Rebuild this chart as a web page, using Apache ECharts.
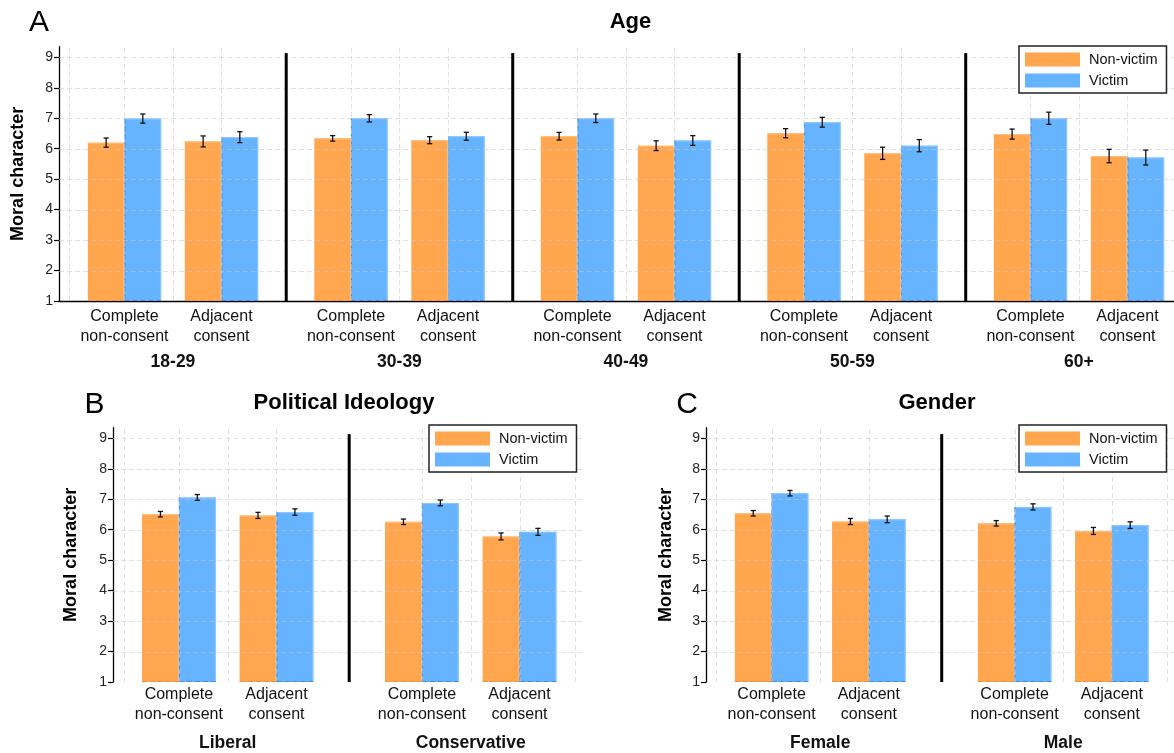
<!DOCTYPE html>
<html><head><meta charset="utf-8">
<script src="https://cdn.jsdelivr.net/npm/echarts@6/dist/echarts.min.js"></script>
<style>html,body{margin:0;padding:0;background:#fff}#c{width:1174px;height:753px}</style>
</head><body><div id="c"></div>
<script>
// ---------------- data ----------------
const conditions = ['Complete\nnon-consent', 'Adjacent\nconsent'];
const seriesNames = ['Non-victim', 'Victim'];
const yTicks = [1, 2, 3, 4, 5, 6, 7, 8, 9];
const yLabel = 'Moral character';

const ageGroups = ['18-29', '30-39', '40-49', '50-59', '60+'];
const ageNonVictim = [[6.20, 6.24], [6.34, 6.28], [6.41, 6.10], [6.51, 5.85], [6.48, 5.76]];
const ageVictim = [[6.99, 6.38], [7.00, 6.41], [7.00, 6.27], [6.87, 6.10], [7.00, 5.71]];
const ageNonVictimErr = [[0.15, 0.18], [0.09, 0.115], [0.125, 0.16], [0.15, 0.20], [0.165, 0.22]];
const ageVictimErr = [[0.15, 0.18], [0.12, 0.13], [0.14, 0.16], [0.16, 0.20], [0.20, 0.245]];

const ideologyGroups = ['Liberal', 'Conservative'];
const ideologyNonVictim = [[6.51, 6.47], [6.26, 5.78]];
const ideologyVictim = [[7.06, 6.58], [6.88, 5.93]];
const ideologyNonVictimErr = [[0.09, 0.10], [0.09, 0.115]];
const ideologyVictimErr = [[0.095, 0.105], [0.095, 0.115]];

const genderGroups = ['Female', 'Male'];
const genderNonVictim = [[6.54, 6.27], [6.21, 5.96]];
const genderVictim = [[7.20, 6.34], [6.75, 6.15]];
const genderNonVictimErr = [[0.09, 0.10], [0.09, 0.115]];
const genderVictimErr = [[0.09, 0.11], [0.10, 0.11]];

// ---------------- style / layout ----------------
const FONT = "'Liberation Sans', Arial, Helvetica, sans-serif";
const ORANGE = '#FFA64F', BLUE = '#66B3FF';
const ORANGE_DARK = '#EE9040', BLUE_DARK = '#3D8FE6';
const ORANGE_LIGHT = '#FFBF80', BLUE_LIGHT = '#8EC8FF';
const GRID_COLOR = 'rgba(200,200,200,0.55)';
const BAR_W = 0.378;   // bar width in category units
const X_MIN = -0.675;
const Y_MAX = 9.35;
const SEP_TOP = 9.14;

const panels = [
  { letter: 'A', title: 'Age', groups: ageGroups, nv: ageNonVictim, v: ageVictim,
    nvErr: ageNonVictimErr, vErr: ageVictimErr, spacing: 2.335,
    grid: { left: 59, top: 46.7, width: 1115, height: 254.3 }, unitPx: 97,
    xAxisLine: true, catDy: 6, nameGap: 32,
    legend: { left: 1019, top: 46 }, titleXY: [630.5, 22], letterXY: [39, 23] },
  { letter: 'B', title: 'Political Ideology', groups: ideologyGroups, nv: ideologyNonVictim, v: ideologyVictim,
    nvErr: ideologyNonVictimErr, vErr: ideologyVictimErr, spacing: 2.49,
    grid: { left: 113, top: 427.7, width: 471, height: 254.3 }, unitPx: 97.6,
    xAxisLine: false, catDy: 3, nameGap: 33,
    legend: { left: 429, top: 425 }, titleXY: [344, 403], letterXY: [94.5, 405] },
  { letter: 'C', title: 'Gender', groups: genderGroups, nv: genderNonVictim, v: genderVictim,
    nvErr: genderNonVictimErr, vErr: genderVictimErr, spacing: 2.5,
    grid: { left: 706, top: 427.7, width: 468, height: 254.3 }, unitPx: 97.2,
    xAxisLine: false, catDy: 3, nameGap: 30.5,
    legend: { left: 1019, top: 425 }, titleXY: [937, 403], letterXY: [687, 405] }
];

function barRender(side, fill, dark, light) {
  return function (params, api) {
    const x = api.value(0), y = api.value(1);
    const b = api.coord([x, 1]);
    const t = api.coord([x, y]);
    const w = api.size([BAR_W, 0])[0];
    const x0 = side < 0 ? b[0] - w : b[0];
    const children = [
      { type: 'rect', shape: { x: x0, y: t[1], width: w, height: b[1] - t[1] }, style: { fill: fill } },
      { type: 'line', shape: { x1: x0, y1: t[1] + 0.5, x2: x0 + w, y2: t[1] + 0.5 }, style: { stroke: light, lineWidth: 1 } },
      { type: 'line', shape: { x1: x0 + w - 0.5, y1: t[1], x2: x0 + w - 0.5, y2: b[1] }, style: { stroke: light, lineWidth: 1 } },
      { type: 'line', shape: { x1: x0, y1: b[1] - 0.5, x2: x0 + w, y2: b[1] - 0.5 }, style: { stroke: dark, lineWidth: 1, lineDash: [5, 3] } }
    ];
    if (side > 0) {
      children.push({ type: 'line', shape: { x1: x0 + 0.5, y1: t[1], x2: x0 + 0.5, y2: b[1] }, style: { stroke: dark, lineWidth: 1, lineDash: [5, 3] } });
    }
    return { type: 'group', children: children };
  };
}

function errRender(params, api) {
  const x = api.value(0), y = api.value(1), e = api.value(2);
  const lo = api.coord([x, y - e]), hi = api.coord([x, y + e]);
  const cap = 2.6;
  const st = { stroke: '#111', lineWidth: 1.3 };
  return { type: 'group', children: [
    { type: 'line', shape: { x1: lo[0], y1: lo[1], x2: hi[0], y2: hi[1] }, style: st },
    { type: 'line', shape: { x1: lo[0] - cap, y1: lo[1], x2: lo[0] + cap, y2: lo[1] }, style: st },
    { type: 'line', shape: { x1: hi[0] - cap, y1: hi[1], x2: hi[0] + cap, y2: hi[1] }, style: st }
  ] };
}

function gridRender(p, xMax) {
  return function (params, api) {
    const children = [];
    const G = p.groups.length;
    const vs = [];
    vs.push(-0.567);
    for (let g = 0; g < G; g++) { vs.push(g * p.spacing, g * p.spacing + 0.5, g * p.spacing + 1); }
    vs.push((G - 1) * p.spacing + 1.567);
    vs.forEach(function (x) {
      if (x < X_MIN || x > xMax) return;
      const a = api.coord([x, 1]), b = api.coord([x, Y_MAX]);
      children.push({ type: 'line', shape: { x1: Math.round(a[0]) + 0.5, y1: a[1], x2: Math.round(b[0]) + 0.5, y2: b[1] }, style: { stroke: GRID_COLOR, lineWidth: 1, lineDash: [5, 3] } });
    });
    yTicks.slice(1).forEach(function (y) {
      const a = api.coord([X_MIN, y]), b = api.coord([xMax, y]);
      children.push({ type: 'line', shape: { x1: a[0], y1: Math.round(a[1]) + 0.5, x2: b[0], y2: Math.round(b[1]) + 0.5 }, style: { stroke: GRID_COLOR, lineWidth: 1, lineDash: [5, 3] } });
    });
    return { type: 'group', children: children };
  };
}

function decorRender(p) {
  return function (params, api) {
    const children = [];
    const G = p.groups.length;
    for (let g = 0; g < G - 1; g++) {
      const xs = g * p.spacing + 1 + (p.spacing - 1) / 2;
      const a = api.coord([xs, 1]), b = api.coord([xs, SEP_TOP]);
      children.push({ type: 'line', shape: { x1: a[0], y1: a[1], x2: b[0], y2: b[1] }, style: { stroke: '#000', lineWidth: 3 } });
    }
    for (let g = 0; g < G; g++) {
      for (let c = 0; c < conditions.length; c++) {
        const pt = api.coord([g * p.spacing + c, 1]);
        children.push({ type: 'text', x: pt[0], y: pt[1] + p.catDy,
          style: { text: conditions[c], fill: '#111', font: '16px ' + FONT, lineHeight: 19.5,
                   align: 'center', verticalAlign: 'top', textAlign: 'center', textVerticalAlign: 'top' } });
      }
      const gp = api.coord([g * p.spacing + 0.5, 1]);
      children.push({ type: 'text', x: gp[0], y: gp[1] + 61,
        style: { text: p.groups[g], fill: '#111', font: 'bold 17.5px ' + FONT,
                 align: 'center', verticalAlign: 'middle', textAlign: 'center', textVerticalAlign: 'middle' } });
    }
    return { type: 'group', children: children };
  };
}

const option = {
  animation: false,
  backgroundColor: '#fff',
  grid: [], xAxis: [], yAxis: [], series: [], legend: [], graphic: []
};

panels.forEach(function (p, i) {
  const xMax = X_MIN + p.grid.width / p.unitPx;
  option.grid.push(Object.assign({ containLabel: false, outerBoundsMode: 'none' }, p.grid));
  option.xAxis.push({ type: 'value', gridIndex: i, min: X_MIN, max: xMax,
    axisLine: { show: p.xAxisLine, onZero: false, lineStyle: { color: '#000', width: 1.3 } },
    axisTick: { show: false }, axisLabel: { show: false }, splitLine: { show: false } });
  option.yAxis.push({ type: 'value', gridIndex: i, min: 1, max: Y_MAX, interval: 1, position: 'left',
    axisLine: { show: true, onZero: false, lineStyle: { color: '#000', width: 1.3 } },
    axisTick: { show: true, length: 5, customValues: yTicks, lineStyle: { color: '#000', width: 1.2 } },
    axisLabel: { customValues: yTicks, fontSize: 14, color: '#222', margin: 6, fontFamily: FONT },
    splitLine: { show: false },
    name: yLabel, nameLocation: 'middle', nameRotate: 90, nameGap: p.nameGap,
    nameTextStyle: { fontSize: 18, fontWeight: 'bold', color: '#000', fontFamily: FONT } });

  const nvData = [], vData = [], nvErrData = [], vErrData = [];
  p.groups.forEach(function (gName, g) {
    conditions.forEach(function (cName, c) {
      const xc = g * p.spacing + c;
      nvData.push([xc, p.nv[g][c]]);
      vData.push([xc, p.v[g][c]]);
      nvErrData.push([xc - BAR_W / 2, p.nv[g][c], p.nvErr[g][c]]);
      vErrData.push([xc + BAR_W / 2, p.v[g][c], p.vErr[g][c]]);
    });
  });

  option.series.push({ type: 'custom', name: seriesNames[0], xAxisIndex: i, yAxisIndex: i, z: 2,
    itemStyle: { color: ORANGE }, renderItem: barRender(-1, ORANGE, ORANGE_DARK, ORANGE_LIGHT), data: nvData, silent: true });
  option.series.push({ type: 'custom', name: seriesNames[1], xAxisIndex: i, yAxisIndex: i, z: 2,
    itemStyle: { color: BLUE }, renderItem: barRender(1, BLUE, BLUE_DARK, BLUE_LIGHT), data: vData, silent: true });
  option.series.push({ type: 'custom', xAxisIndex: i, yAxisIndex: i, z: 3,
    renderItem: gridRender(p, xMax), data: [[0, 1]], silent: true });
  option.series.push({ type: 'custom', xAxisIndex: i, yAxisIndex: i, z: 4,
    renderItem: errRender, data: nvErrData.concat(vErrData), silent: true });
  option.series.push({ type: 'custom', xAxisIndex: i, yAxisIndex: i, z: 5,
    renderItem: decorRender(p), data: [[0, 1]], silent: true });

  option.legend.push({ left: p.legend.left, top: p.legend.top, orient: 'vertical',
    data: seriesNames, icon: 'rect', itemWidth: 55, itemHeight: 14, itemGap: 6,
    padding: [6, 9, 5, 6], borderColor: '#222', borderWidth: 1.5, borderRadius: 0,
    backgroundColor: '#fff', selectedMode: false,
    textStyle: { fontSize: 14.5, color: '#111', fontFamily: FONT, padding: [0, 0, 0, 4] } });

  option.graphic.push({ type: 'text', x: p.titleXY[0], y: p.titleXY[1],
    style: { text: p.title, font: 'bold 22px ' + FONT, fill: '#000', align: 'center', verticalAlign: 'middle', textAlign: 'center', textVerticalAlign: 'middle' } });
  option.graphic.push({ type: 'text', x: p.letterXY[0], y: p.letterXY[1],
    style: { text: p.letter, font: '30px ' + FONT, fill: '#000', align: 'center', verticalAlign: 'middle', textAlign: 'center', textVerticalAlign: 'middle' } });
});

const chart = echarts.init(document.getElementById('c'), null, { renderer: 'canvas' });
chart.setOption(option);
</script>
</body></html>
